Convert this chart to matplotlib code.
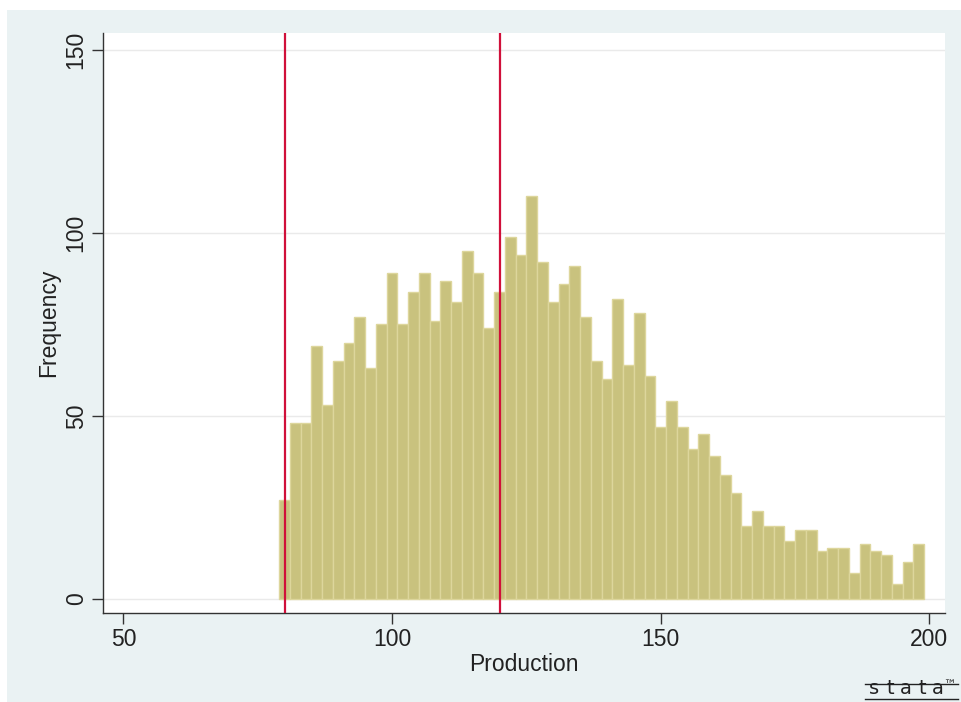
import matplotlib.pyplot as plt
from matplotlib.patches import Rectangle
from matplotlib.lines import Line2D

plt.rcParams['font.family'] = ['Liberation Sans', 'DejaVu Sans']

# histogram: 60 bins of width 2 starting at 79
bin_start = 79
bin_width = 2
counts = [27, 48, 48, 69, 53, 65, 70, 77, 63, 75,
          89, 75, 84, 89, 76, 87, 81, 95, 89, 74,
          84, 99, 94, 110, 92, 81, 86, 91, 77, 65,
          60, 82, 64, 78, 61, 47, 54, 47, 41, 45,
          39, 34, 29, 20, 24, 20, 20, 16, 19, 19,
          13, 14, 14, 7, 15, 13, 12, 4, 10, 15]
lefts = [bin_start + i * bin_width for i in range(len(counts))]
xlines = [80, 120]
xticks = [50, 100, 150, 200]
yticks = [0, 50, 100, 150]

W, H = 961, 702
fig = plt.figure(figsize=(W / 100, H / 100), dpi=100, facecolor='white')
fig.patches.append(Rectangle((7 / W, 0), 1, 1 - 10 / H, transform=fig.transFigure,
                             facecolor='#eaf2f3', edgecolor='none', zorder=-10))

ax = fig.add_axes([103 / W, 1 - 613 / H, (945 - 103) / W, (613 - 33) / H])
ax.set_facecolor('white')

ax.bar(lefts, counts, width=bin_width, align='edge', color='#c9c27e',
       edgecolor='#ddd69c', linewidth=1.0, zorder=2)
for xv in xlines:
    ax.axvline(xv, color='#d0103a', linewidth=1.6, zorder=3)

ax.set_xlim(46.2, 202.9)
ax.set_ylim(-3.8, 154.6)
ax.set_xticks(xticks)
ax.set_yticks(yticks)
ax.set_yticklabels([str(v) for v in yticks], rotation=90, va='center')
ax.tick_params(labelsize=16.5, length=8, width=1, color='#333333', pad=3,
               labelcolor='#222222')
ax.grid(axis='y', color='#eaeaea', linewidth=1, zorder=0)
ax.set_axisbelow(True)
for s in ['top', 'right']:
    ax.spines[s].set_visible(False)
for s in ['left', 'bottom']:
    ax.spines[s].set_color('#333333')
    ax.spines[s].set_linewidth(1)

ax.set_xlabel('Production', fontsize=16.5, labelpad=1, color='#222222')
ax.set_ylabel('Frequency', fontsize=16.5, labelpad=3, color='#222222')

# stata logo
for i, ch in enumerate('stata'):
    fig.text((874 + i * 16) / W, 1 - 698 / H, ch, fontsize=14, ha='center',
             va='bottom', color='#222222', family=['DejaVu Sans'],
             fontstretch='expanded')
fig.text(949 / W, 1 - 692 / H, '™', fontsize=9, ha='center', va='bottom',
         color='#222222', family=['DejaVu Sans'])
for yy in [684, 699]:
    fig.add_artist(Line2D([865 / W, 958 / W], [1 - yy / H, 1 - yy / H],
                          transform=fig.transFigure, color='#222222', linewidth=1))

fig.savefig('out.png', dpi=100, facecolor=fig.get_facecolor())
